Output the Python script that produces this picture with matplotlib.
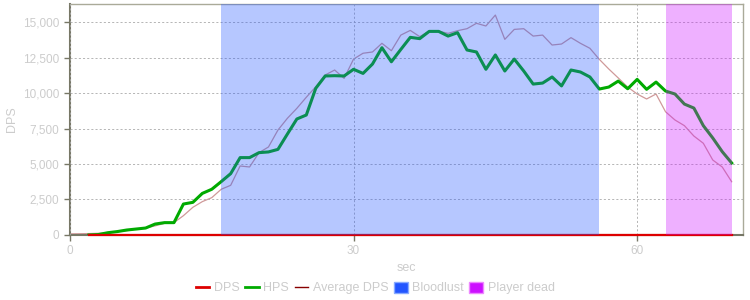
import matplotlib
matplotlib.use("Agg")
import matplotlib.pyplot as plt
from matplotlib.patches import Patch
from matplotlib.lines import Line2D
from matplotlib.ticker import FuncFormatter

plt.rcParams['font.family'] = ['Liberation Sans', 'DejaVu Sans']

# seconds
t_hps = list(range(2, 71))
t_avg = list(range(0, 71))
t_dps = list(range(2, 71))

hps = [0, 30, 160, 240, 350, 420, 490, 770, 870, 870, 2180, 2300, 2930, 3220, 3760,
       4320, 5450, 5450, 5800, 5850, 6030, 7110, 8170, 8450, 10330, 11200, 11220, 11200,
       11670, 11380, 12040, 13190, 12200, 13070, 13920, 13830, 14340, 14340, 14010, 14250,
       13030, 12890, 11670, 12680, 11550, 12390, 11550, 10630, 10700, 11130, 10500, 11620,
       11480, 11130, 10280, 10420, 10840, 10300, 10960, 10260, 10770, 10140, 9930, 9220,
       8940, 7700, 6830, 5870, 5070]

avg_dps = [80, 90, 100, 120, 150, 240, 300, 420, 490, 640, 820, 870, 1360, 1950, 2350,
           2630, 3220, 3500, 4860, 4790, 5800, 6200, 7390, 8220, 8920, 9700, 10440, 11270,
           11620, 11030, 12390, 12800, 12890, 13500, 12980, 14080, 14410, 13970, 14360, 14360,
           14200, 14390, 14530, 14910, 14720, 15490, 13780, 14480, 14530, 14010, 14080, 13380,
           13450, 13900, 13500, 13150, 12370, 11690, 11060, 10420, 9930, 9580, 9930, 8680,
           8100, 7700, 6970, 6460, 5280, 4790, 3750]

dps = [0] * len(t_dps)

bloodlust = (16, 56)
player_dead = (63, 70)

grey = "#cccccc"

fig = plt.figure(figsize=(7.5, 3), dpi=100)
ax = fig.add_axes([0.0933, 0.2167, 0.8974, 0.77])

ax.plot(t_avg, avg_dps, color="#880000", lw=0.9, alpha=0.4, zorder=2)
ax.plot(t_hps, hps, color="#00aa00", lw=2.2, zorder=3)
ax.plot(t_dps, dps, color="#dd0000", lw=1.6, zorder=3, clip_on=False)

ax.axvspan(bloodlust[0], bloodlust[1], color="#2255ff", alpha=0.33, lw=0, zorder=4)
ax.axvspan(player_dead[0], player_dead[1], color="#cc11ff", alpha=0.33, lw=0, zorder=4)

ax.set_xlim(0, 71.2)
ax.set_ylim(0, 16270)
ax.set_xticks([0, 30, 60])
ax.set_yticks([0, 2500, 5000, 7500, 10000, 12500, 15000])
ax.yaxis.set_major_formatter(FuncFormatter(lambda v, p: "{:,.0f}".format(v)))
ax.grid(True, color="#aaaaaa", ls=(0, (2.5, 2.5)), lw=0.6, zorder=5)
ax.set_axisbelow(False)

for s in ["left", "bottom"]:
    ax.spines[s].set_color("#777766")
    ax.spines[s].set_linewidth(1.5)
for s in ["top", "right"]:
    ax.spines[s].set_color("#aaaa99")
    ax.spines[s].set_linewidth(1.0)

ax.tick_params(colors="#777766", labelcolor=grey, labelsize=8.5, length=4, width=1)
ax.set_xlabel("sec", color=grey, fontsize=9)
ax.xaxis.set_label_coords(0.5, -0.115)
ax.set_ylabel("DPS", color=grey, fontsize=9)
ax.yaxis.set_label_coords(-0.077, 0.5)

handles = [Line2D([], [], color="#dd0000", lw=2),
           Line2D([], [], color="#00aa00", lw=2),
           Line2D([], [], color="#880000", lw=1),
           Patch(facecolor="#2255ff", edgecolor="#88aaff"),
           Patch(facecolor="#cc11ff", edgecolor="#ee88ff")]
labels = ["DPS", "HPS", "Average DPS", "Bloodlust", "Player dead"]
fig.legend(handles, labels, loc="center", bbox_to_anchor=(0.5, 0.04), ncol=5,
           frameon=False, fontsize=9, labelcolor=grey, handlelength=1.1,
           handletextpad=0.35, columnspacing=0.45, handleheight=1.0)

fig.savefig("out.png", dpi=100)
